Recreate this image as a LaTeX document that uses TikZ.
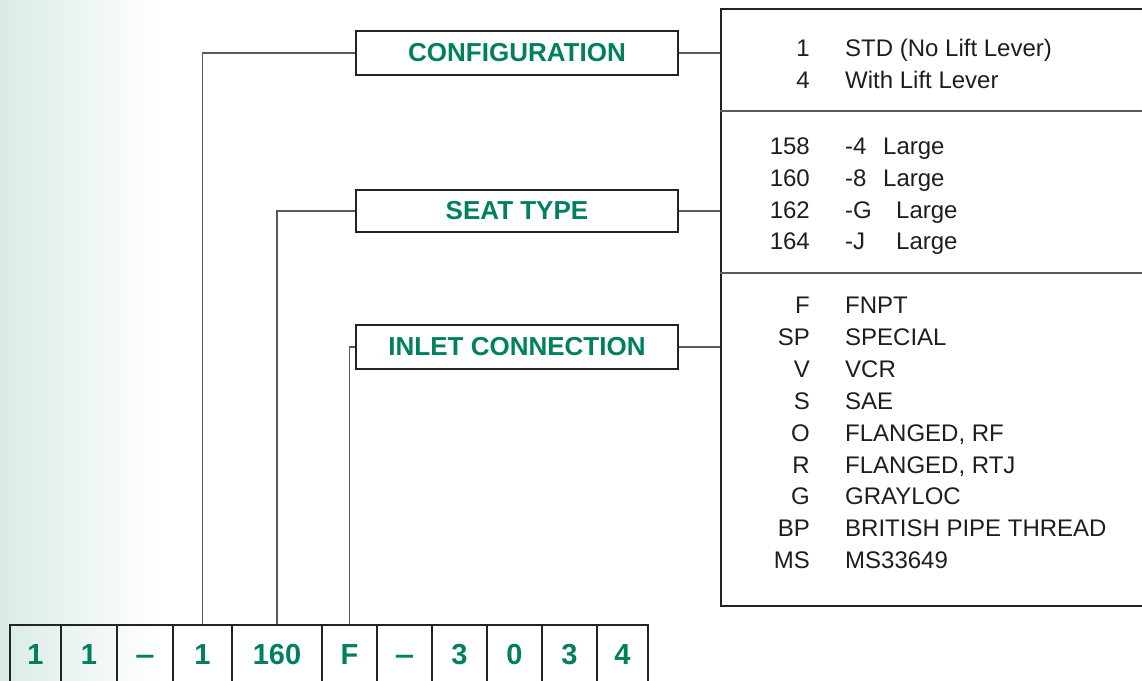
\documentclass[tikz,border=0pt]{standalone}
\usepackage{fontspec}
\setmainfont{Liberation Sans}
\definecolor{tgreen}{RGB}{0,128,96}
\definecolor{lnc}{RGB}{90,90,90}
\definecolor{bxc}{RGB}{35,35,35}
\definecolor{bgg}{RGB}{218,235,229}
\definecolor{txc}{RGB}{30,30,30}
\newcommand{\lowdash}{\vphantom{1}\scalebox{1.2}[1]{--}}
\begin{document}
\begin{tikzpicture}[x=1pt,y=-1pt,
  cell/.style={draw=bxc,line width=2pt,minimum height=60pt,inner sep=0pt,
    text=tgreen,font=\bfseries\fontsize{29}{34}\selectfont},
  lab/.style={draw=bxc,line width=2.4pt,fill=white,minimum width=322pt,inner sep=0pt,
    text=tgreen,font=\bfseries\fontsize{26}{30}\selectfont},
  conn/.style={draw=lnc,line width=1.3pt},
  code/.style={anchor=base east,inner sep=0pt,text=txc,font=\fontsize{24}{28}\selectfont},
  desc/.style={anchor=base west,inner sep=0pt,text=txc,font=\fontsize{24}{28}\selectfont}]
\useasboundingbox (0,0) rectangle (1142,680);
\clip (0,0) rectangle (1142,680);
\shade[left color=bgg,right color=white] (0,0) rectangle (160,680);

% bottom code cells
\foreach \n/\l/\r/\t in {1/10/61/1,2/61/117/1,3/117/173/\lowdash,4/173/232/1,5/232/322/160,
  6/322/377/F,7/377/432/\lowdash,8/432/487/3,9/487/542/0,10/542/597/3,11/597/648/4}{
  \node[cell,minimum width={\r-\l}] (c\n) at ({(\l+\r)/2},655) {\t};
}

% labels
\node[lab,minimum height=44pt] (conf) at (517,53) {CONFIGURATION};
\node[lab,minimum height=42pt] (seat) at (517,211) {SEAT TYPE};
\node[lab,minimum height=44pt] (inlet) at (517,347) {INLET CONNECTION};

% table
\node[draw=bxc,line width=2pt,minimum width=440pt,minimum height=597pt,anchor=north west,inner sep=0pt] (tbl) at (720,8) {};
\coordinate (d1) at (720,111);
\coordinate (d2) at (720,273);
\draw[draw=lnc,line width=1.5pt] (d1) -- ++(440,0);
\draw[draw=lnc,line width=1.5pt] (d2) -- ++(440,0);

% connectors
\draw[conn] (c4.north) |- (conf.west);
\draw[conn] (c5.north) |- (seat.west);
\draw[conn] (c6.north) |- (inlet.west);
\draw[conn] (conf.east) -- (conf.east -| tbl.west);
\draw[conn] (seat.east) -- (seat.east -| tbl.west);
\draw[conn] (inlet.east) -- (inlet.east -| tbl.west);

% table text
\node[code] (k1) at (810,56) {1};   \node[desc] (v1) at (845,56) {STD (No Lift Lever)};
\node[code] (k2) at (810,88) {4};   \node[desc] (v2) at (845,88) {With Lift Lever};

\node[code] (s1) at (810,154) {158}; \node[desc] (t1) at (845,154) {-4}; \node[desc] (u1) at (883,154) {Large};
\node[code] (s2) at (810,186) {160}; \node[desc] (t2) at (845,186) {-8}; \node[desc] (u2) at (883,186) {Large};
\node[code] (s3) at (810,218) {162}; \node[desc] (t3) at (845,218) {-G}; \node[desc] (u3) at (896,218) {Large};
\node[code] (s4) at (810,249) {164}; \node[desc] (t4) at (845,249) {-J}; \node[desc] (u4) at (896,249) {Large};

\foreach \i/\k/\v/\y in {1/F/FNPT/313,2/SP/SPECIAL/345,3/V/VCR/377,4/S/SAE/409,
  5/O/{FLANGED, RF}/441,6/R/{FLANGED, RTJ}/473,7/G/GRAYLOC/504,
  8/BP/BRITISH PIPE THREAD/536,9/MS/MS33649/568}{
  \node[code] (ik\i) at (810,\y) {\k};
  \node[desc] (iv\i) at (845,\y) {\v};
}
\end{tikzpicture}
\end{document}
